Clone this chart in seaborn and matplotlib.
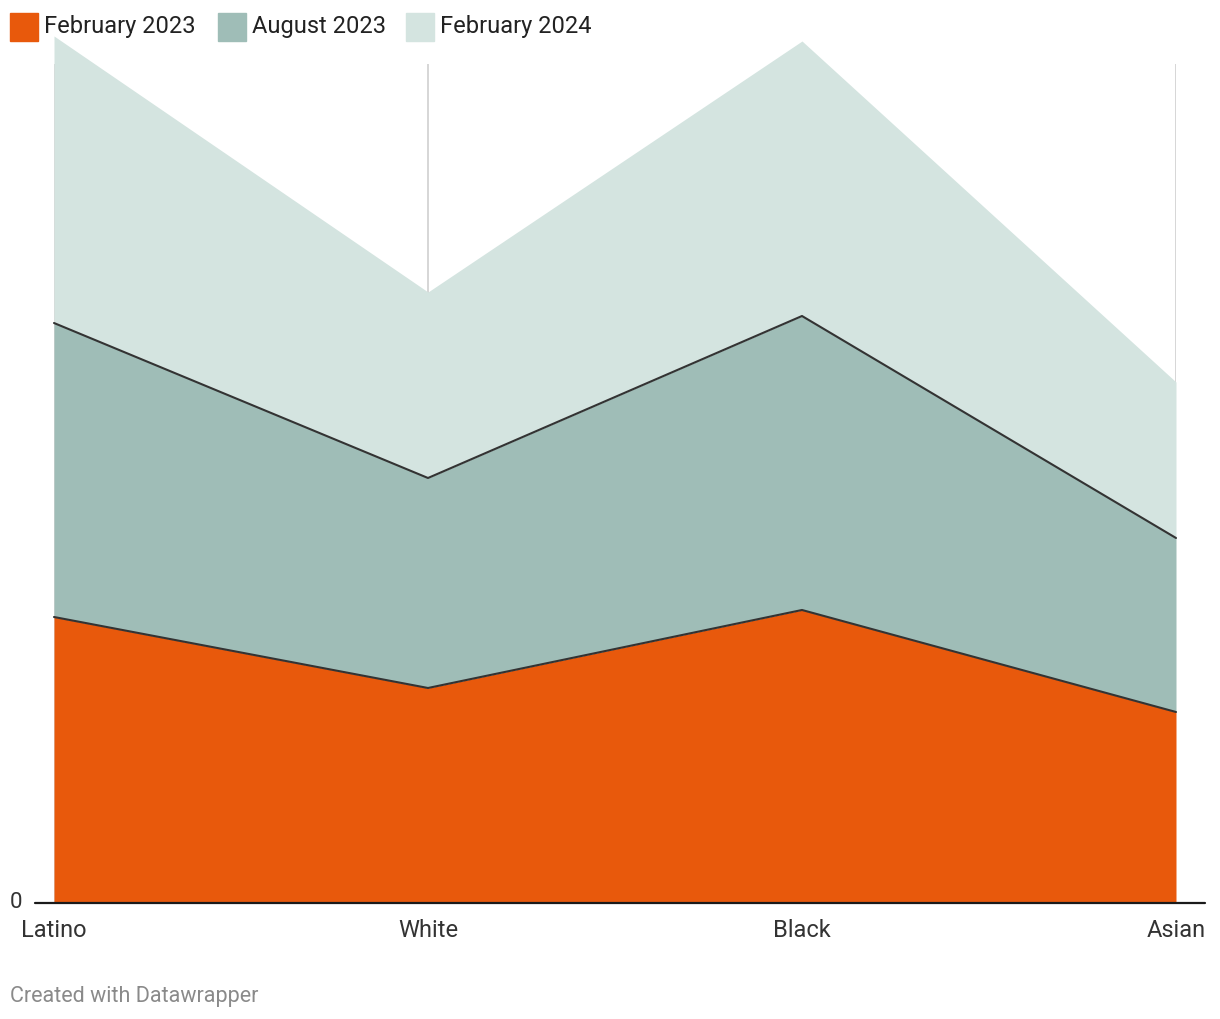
import numpy as np
import pandas as pd
import matplotlib
matplotlib.use("Agg")
import matplotlib.pyplot as plt
from matplotlib.patches import Rectangle
from matplotlib.lines import Line2D
import seaborn as sns

categories = ["Latino", "White", "Black", "Asian"]
series_names = ["February 2023", "August 2023", "February 2024"]
feb23 = [28.6, 21.5, 29.3, 19.1]
aug23 = [29.4, 21.0, 29.4, 17.4]
feb24 = [28.7, 18.6, 27.5, 15.6]
colors = ["#E8590C", "#9FBDB7", "#D4E4E0"]

sns.set_theme(style="white")
plt.rcParams["font.family"] = ["Roboto", "DejaVu Sans"]

W, H = 1220, 1020
fig = plt.figure(figsize=(W / 100, H / 100), dpi=100)
ax = fig.add_axes([54 / W, 1 - 904 / H, (1176 - 54) / W, (904 - 65) / H])

x = np.arange(len(categories))
s1 = np.array(feb23)
s2 = s1 + np.array(aug23)
s3 = s2 + np.array(feb24)

df = pd.DataFrame({
    "x": np.concatenate([x, x]),
    "y": np.concatenate([s1, s2]),
    "series": ["a"] * len(x) + ["b"] * len(x),
})

ax.fill_between(x, 0, s1, color=colors[0], lw=0, clip_on=False, zorder=1)
ax.fill_between(x, s1, s2, color=colors[1], lw=0, clip_on=False, zorder=1)
ax.fill_between(x, s2, s3, color=colors[2], lw=0, clip_on=False, zorder=1)

sns.lineplot(data=df, x="x", y="y", units="series", estimator=None,
             color="#333333", lw=1.5, ax=ax, legend=False, zorder=3, clip_on=False)

for xi in x:
    ax.axvline(xi, color="#d0d0d0", lw=1.2, zorder=0)

ax.set_xlim(0, len(categories) - 1)
ax.set_ylim(0, 83.9)
for sp in ax.spines.values():
    sp.set_visible(False)
ax.set_xticks([])
ax.set_yticks([])
ax.set_xlabel("")
ax.set_ylabel("")

# baseline
fig.add_artist(Line2D([35 / W, 1205 / W], [1 - 904 / H, 1 - 904 / H],
                      color="#1a1a1a", lw=1.6, zorder=5))
fig.text(10 / W, 1 - 903 / H, "0", ha="left", va="center", fontsize=16, color="#333333")

# category labels
for xi, lab in zip(x, categories):
    ax.text(xi, -0.031, lab, transform=ax.get_xaxis_transform(), ha="center",
            va="center", fontsize=17, color="#333333")

# legend
leg_x = [10, 218, 406]
for lx, name, c in zip(leg_x, series_names, colors):
    fig.add_artist(Rectangle((lx / W, 1 - 42 / H), 28 / W, 28 / H, color=c,
                             transform=fig.transFigure))
    fig.text((lx + 34) / W, 1 - 26 / H, name, ha="left", va="center",
             fontsize=17, color="#222222")

fig.text(10 / W, 1 - 997 / H, "Created with Datawrapper", ha="left", va="center",
         fontsize=15.5, color="#8a8a8a")

fig.savefig("out.png", dpi=100)
